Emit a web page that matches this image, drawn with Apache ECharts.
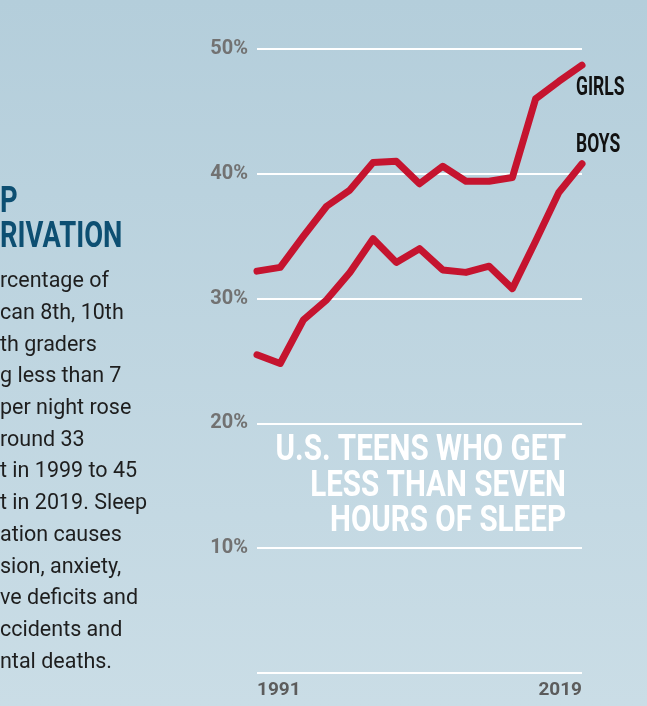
<!DOCTYPE html>
<html>
<head>
<meta charset="utf-8">
<script src="https://cdn.jsdelivr.net/npm/echarts@6/dist/echarts.min.js"></script>
<style>
  html, body { margin: 0; padding: 0; }
  #main { width: 647px; height: 706px; }
</style>
</head>
<body>
<div id="main"></div>
<script>
// survey years (every two years)
var years = ['1991', '1993', '1995', '1997', '1999', '2001', '2003', '2005',
  '2007', '2009', '2011', '2013', '2015', '2017', '2019'];
// % of teens sleeping less than 7 hours
var girls = [32.2, 32.5, 35.0, 37.4, 38.7, 40.9, 41.0, 39.2, 40.6, 39.4, 39.4, 39.7, 46.0, 47.4, 48.7];
var boys = [25.5, 24.8, 28.3, 29.9, 32.1, 34.8, 32.9, 34.0, 32.3, 32.1, 32.6, 30.8, 34.6, 38.5, 40.8];
var yTicks = [0, 10, 20, 30, 40, 50];

// left column text (cut off by the page edge)
var headLines = ['P', 'RIVATION'];
var bodyLines = ['rcentage of', 'can 8th, 10th', 'th graders', 'g less than 7',
  'per night rose', 'round 33', 't in 1999 to 45', 't in 2019. Sleep',
  'ation causes', 'sion, anxiety,', 've deficits and', 'ccidents and', 'ntal deaths.'];
var titleLines = ['U.S. TEENS WHO GET', 'LESS THAN SEVEN', 'HOURS OF SLEEP'];

var red = '#c5142f';
var boldFont = 'bold {s}px Roboto, sans-serif';

function font(size) {
  return boldFont.replace('{s}', size);
}

var chart = echarts.init(document.getElementById('main'));

// squeezed text, to look like the condensed display face
function squeezed(text, x, y, size, color, align, sx) {
  return {
    type: 'text', x: x, y: y, scaleX: sx,
    style: { text: text, font: font(size), fill: color, align: align, verticalAlign: 'middle' }
  };
}

var graphics = [];
headLines.forEach(function (t, i) {
  graphics.push(squeezed(t, 0, 203 + i * 35, 37, '#0d4f72', 'left', 0.74));
});
graphics.push({
  type: 'text', left: 0, top: 266,
  style: { text: bodyLines.join('\n'), font: '21.5px Roboto, sans-serif', fill: '#1e1e1e', lineHeight: 31.7 }
});
titleLines.forEach(function (t, i) {
  graphics.push(squeezed(t, 566, 451 + i * 35.5, 37, '#ffffff', 'right', 0.8));
});

var option = {
  backgroundColor: new echarts.graphic.LinearGradient(0, 0, 0, 1, [
    { offset: 0, color: '#b4cedb' },
    { offset: 1, color: '#cadde6' }
  ]),
  animation: false,
  grid: { left: 257, right: 65, top: 49, bottom: 33 },
  xAxis: {
    type: 'category',
    data: years,
    boundaryGap: false,
    axisLine: { show: false },
    axisTick: { show: false },
    axisLabel: {
      interval: function (i) { return i === 0 || i === years.length - 1; },
      alignMinLabel: 'left',
      alignMaxLabel: 'right',
      margin: 8,
      color: '#5c5c5c',
      fontFamily: 'Roboto',
      fontWeight: 'bold',
      fontSize: 19
    }
  },
  yAxis: {
    type: 'value',
    min: yTicks[0],
    max: yTicks[yTicks.length - 1],
    interval: 10,
    axisLine: { show: false },
    axisTick: { show: false },
    axisLabel: {
      margin: 9,
      color: '#727272',
      fontFamily: 'Roboto',
      fontWeight: 'bold',
      fontSize: 20,
      formatter: function (v) { return v === 0 ? '' : v + '%'; }
    },
    splitLine: { show: true, lineStyle: { color: '#ffffff', width: 2 } }
  },
  series: [{
    name: 'GIRLS',
    type: 'line',
    data: girls,
    symbol: 'none',
    lineStyle: { color: red, width: 7, cap: 'round', join: 'round' }
  }, {
    name: 'BOYS',
    type: 'line',
    data: boys,
    symbol: 'none',
    lineStyle: { color: red, width: 7, cap: 'round', join: 'round' }
  }],
  graphic: graphics
};

chart.setOption(option);

// series names next to the line ends
var last = years.length - 1;
var gEnd = chart.convertToPixel({ seriesIndex: 0 }, [last, girls[last]]);
var bEnd = chart.convertToPixel({ seriesIndex: 1 }, [last, boys[last]]);
graphics.push(squeezed('GIRLS', gEnd[0] - 6, gEnd[1] + 24, 25, '#111111', 'left', 0.7));
graphics.push(squeezed('BOYS', bEnd[0] - 6, bEnd[1] - 18, 25, '#111111', 'left', 0.7));
chart.setOption({ graphic: graphics });
</script>
</body>
</html>
